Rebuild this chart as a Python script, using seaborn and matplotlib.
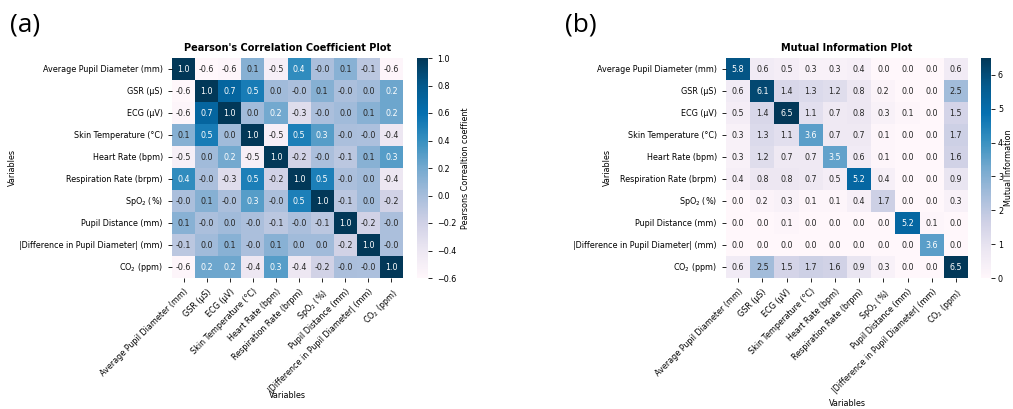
import numpy as np
import pandas as pd
import matplotlib
matplotlib.use("Agg")
import matplotlib.pyplot as plt
import seaborn as sns

variables = [
    "Average Pupil Diameter (mm)",
    "GSR (µS)",
    "ECG (µV)",
    "Skin Temperature (°C)",
    "Heart Rate (bpm)",
    "Respiration Rate (brpm)",
    "SpO$_2$ (%)",
    "Pupil Distance (mm)",
    "|Difference in Pupil Diameter| (mm)",
    "CO$_2$ (ppm)",
]

# Pearson correlation coefficients between the physiological variables
pearson = [
    [1.00, -0.60, -0.58, 0.13, -0.50, 0.42, -0.02, 0.12, -0.10, -0.58],
    [-0.60, 1.00, 0.70, 0.52, 0.02, -0.02, 0.13, -0.02, 0.02, 0.22],
    [-0.58, 0.70, 1.00, 0.02, 0.20, -0.30, -0.02, 0.02, 0.12, 0.22],
    [0.13, 0.52, 0.02, 1.00, -0.50, 0.50, 0.30, -0.02, -0.03, -0.40],
    [-0.50, 0.02, 0.20, -0.50, 1.00, -0.20, -0.02, -0.10, 0.12, 0.30],
    [0.42, -0.02, -0.30, 0.50, -0.20, 1.00, 0.50, -0.02, 0.02, -0.40],
    [-0.02, 0.13, -0.02, 0.30, -0.02, 0.50, 1.00, -0.10, 0.02, -0.20],
    [0.12, -0.02, 0.02, -0.02, -0.10, -0.02, -0.10, 1.00, -0.20, -0.02],
    [-0.10, 0.02, 0.12, -0.02, 0.12, 0.02, 0.02, -0.20, 1.00, -0.02],
    [-0.58, 0.22, 0.22, -0.40, 0.30, -0.40, -0.20, -0.02, -0.03, 1.00],
]

# Mutual information between the physiological variables
mutual_info = [
    [5.8, 0.6, 0.5, 0.3, 0.3, 0.4, 0.0, 0.0, 0.0, 0.6],
    [0.6, 6.1, 1.4, 1.3, 1.2, 0.8, 0.2, 0.0, 0.0, 2.5],
    [0.5, 1.4, 6.5, 1.1, 0.7, 0.8, 0.3, 0.1, 0.0, 1.5],
    [0.3, 1.3, 1.1, 3.6, 0.7, 0.7, 0.1, 0.0, 0.0, 1.7],
    [0.3, 1.2, 0.7, 0.7, 3.5, 0.6, 0.1, 0.0, 0.0, 1.6],
    [0.4, 0.8, 0.8, 0.7, 0.5, 5.2, 0.4, 0.0, 0.0, 0.9],
    [0.0, 0.2, 0.3, 0.1, 0.1, 0.4, 1.7, 0.0, 0.0, 0.3],
    [0.0, 0.0, 0.1, 0.0, 0.0, 0.0, 0.0, 5.2, 0.1, 0.0],
    [0.0, 0.0, 0.0, 0.0, 0.0, 0.0, 0.0, 0.0, 3.6, 0.0],
    [0.6, 2.5, 1.5, 1.7, 1.6, 0.9, 0.3, 0.0, 0.0, 6.5],
]

pearson_df = pd.DataFrame(pearson, index=variables, columns=variables)
mi_df = pd.DataFrame(mutual_info, index=variables, columns=variables)

W, H = 1013, 409
fig = plt.figure(figsize=(W / 100, H / 100), dpi=100)


def px_axes(x0, y0, x1, y1):
    return fig.add_axes([x0 / W, 1 - y1 / H, (x1 - x0) / W, (y1 - y0) / H])


FS = 5.8

ax1 = px_axes(172, 58, 403, 278)
cax1 = px_axes(417, 58, 428, 278)
ax2 = px_axes(726, 58, 968, 278)
cax2 = px_axes(981, 58, 991, 278)

sns.heatmap(pearson_df, ax=ax1, cbar_ax=cax1, cmap="PuBu", vmin=-0.6, vmax=1.0,
            annot=True, fmt=".1f", annot_kws={"fontsize": FS},
            cbar_kws={"label": "Pearsons Correaltion coeffient"})
sns.heatmap(mi_df, ax=ax2, cbar_ax=cax2, cmap="PuBu", vmin=0, vmax=6.5,
            annot=True, fmt=".1f", annot_kws={"fontsize": FS},
            cbar_kws={"label": "Mutual Information"})

for ax, cax, title, xl_y, yl_x, cb_pad, tk_pad in [
    (ax1, cax1, "Pearson's Correlation Coefficient Plot", -0.514, -0.671, 3, 3.5),
    (ax2, cax2, "Mutual Information Plot", -0.55, -0.471, 0.5, 2),
]:
    ax.set_title(title, fontsize=7, fontweight="bold", pad=5)
    ax.set_xlabel("Variables", fontsize=FS)
    ax.set_ylabel("Variables", fontsize=FS)
    ax.xaxis.set_label_coords(0.5, xl_y)
    ax.yaxis.set_label_coords(yl_x, 0.5)
    ax.tick_params(axis="both", labelsize=FS, length=3, width=0.6)
    ax.set_xticklabels(ax.get_xticklabels(), rotation=45, ha="right",
                       rotation_mode="anchor")
    ax.set_yticklabels(ax.get_yticklabels(), rotation=0)
    cax.tick_params(labelsize=FS, length=3, width=0.6, pad=tk_pad)
    cax.yaxis.label.set_size(FS)
    cax.yaxis.labelpad = cb_pad

fig.text(10 / W, 1 - 25 / H, "(a)", fontsize=19, family="Open Sans", va="center")
fig.text(565 / W, 1 - 25 / H, "(b)", fontsize=19, family="Open Sans", va="center")

fig.savefig("out.png", dpi=100)
